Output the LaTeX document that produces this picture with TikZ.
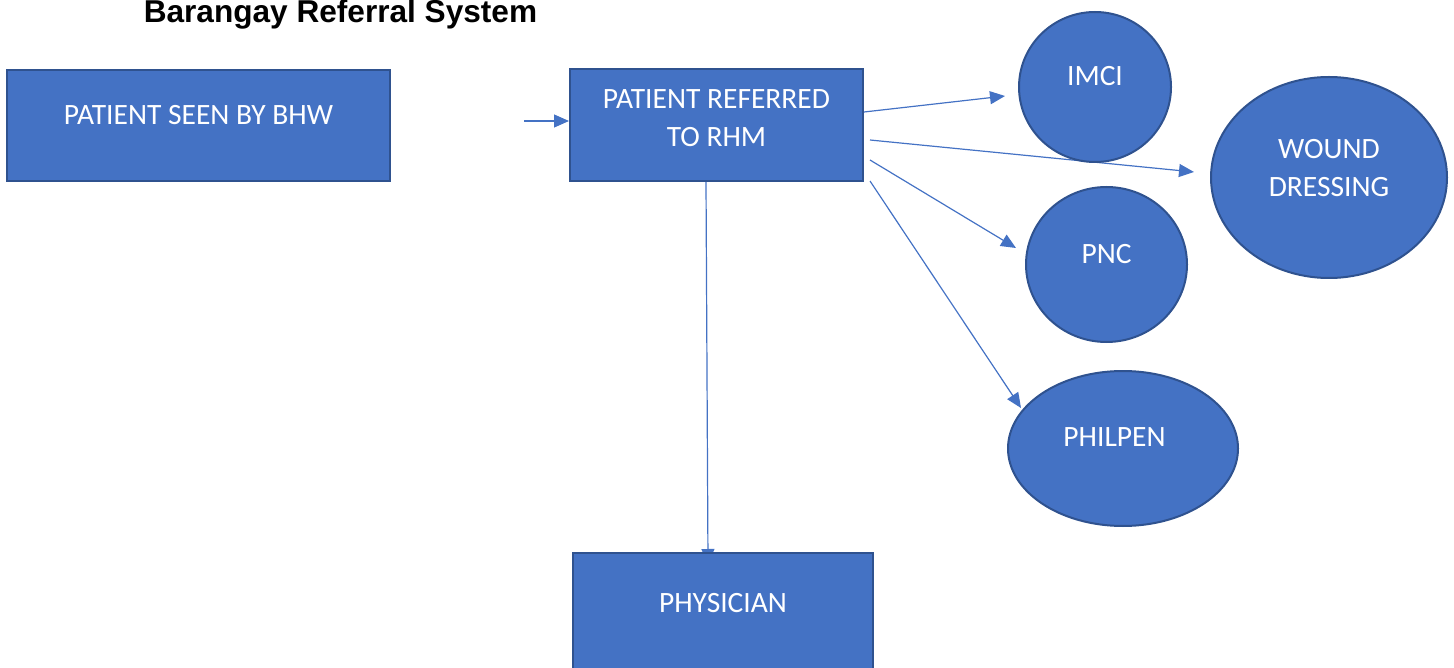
\documentclass[tikz,border=0pt]{standalone}
\usepackage{fontspec}
\setmainfont{Carlito}
\newfontfamily\headfont{Liberation Sans}
\usetikzlibrary{shapes.geometric, arrows.meta, calc, backgrounds}
\definecolor{shapefill}{HTML}{4472C4}
\definecolor{shapeline}{HTML}{2F528F}

\begin{document}
\begin{tikzpicture}[x=1pt, y=-1pt,
  box/.style={rectangle, draw=shapeline, line width=2pt, fill=shapefill, inner sep=0pt},
  oval/.style={ellipse, draw=shapeline, line width=2pt, fill=shapefill, inner sep=0pt},
  lbl/.style={text=white, inner sep=0pt, align=center,
              font=\fontsize{29.5}{38}\selectfont},
  arr/.style={draw=shapefill, line width=1.2pt,
              -{Triangle[length=15pt, width=13pt]}}]

\clip (0,0) rectangle (1454,668);

% title
\node[anchor=base, inner sep=0pt, font=\headfont\bfseries\fontsize{31.6}{36}\selectfont]
  (title) at (340.5,23) {Barangay Referral System};

% boxes
\node[box, minimum width=383pt, minimum height=111pt,
      label={[lbl, yshift=10.5pt]center:PATIENT SEEN BY BHW}] (bhw) at (198.5,125.5) {};
\node[box, minimum width=293pt, minimum height=112pt,
      label={[lbl, yshift=6.7pt]center:PATIENT REFERRED\\TO RHM}] (rhm) at (716.5,125) {};
\node[box, minimum width=300pt, minimum height=120pt,
      label={[lbl, yshift=10pt]center:PHYSICIAN}] (phys) at (723,613) {};

% service ovals
\node[oval, minimum width=152pt, minimum height=150pt,
      label={[lbl, yshift=11pt]center:IMCI}] (imci) at (1095,87) {};
\node[oval, minimum width=236pt, minimum height=201pt,
      label={[lbl, yshift=9pt]center:WOUND\\DRESSING}] (wound) at (1329,177.5) {};
\node[oval, minimum width=161pt, minimum height=155pt,
      label={[lbl, yshift=10.5pt]center:PNC}] (pnc) at (1106.5,264.5) {};
\node[oval, minimum width=230pt, minimum height=155pt,
      label={[lbl, yshift=11pt, xshift=-8.5pt]center:PHILPEN}] (philpen) at (1123,448.5) {};

\coordinate (feed) at (524,121);

% connectors, kept behind the shapes
\begin{scope}[on background layer]
  \draw[arr] (feed) -- (feed -| rhm.west);
  \draw[arr] ($(rhm.north east)+(0,44)$) -- ($(imci.center)+(-90,9)$);
  \draw[arr] ($(rhm.north east)+(6,72)$) -- ($(wound.center)+(-135,-5.5)$);
  \draw[arr] ($(rhm.north east)+(6,92)$) -- ($(pnc.center)+(-90.5,-16.5)$);
  \draw[arr] ($(rhm.north east)+(6,113)$) -- ($(philpen.center)+(-102,-40.5)$);
  \draw[arr] ($(rhm.south)+(-10.5,0)$) -- ($(phys.north)+(-15,12)$);
\end{scope}
\end{tikzpicture}
\end{document}
